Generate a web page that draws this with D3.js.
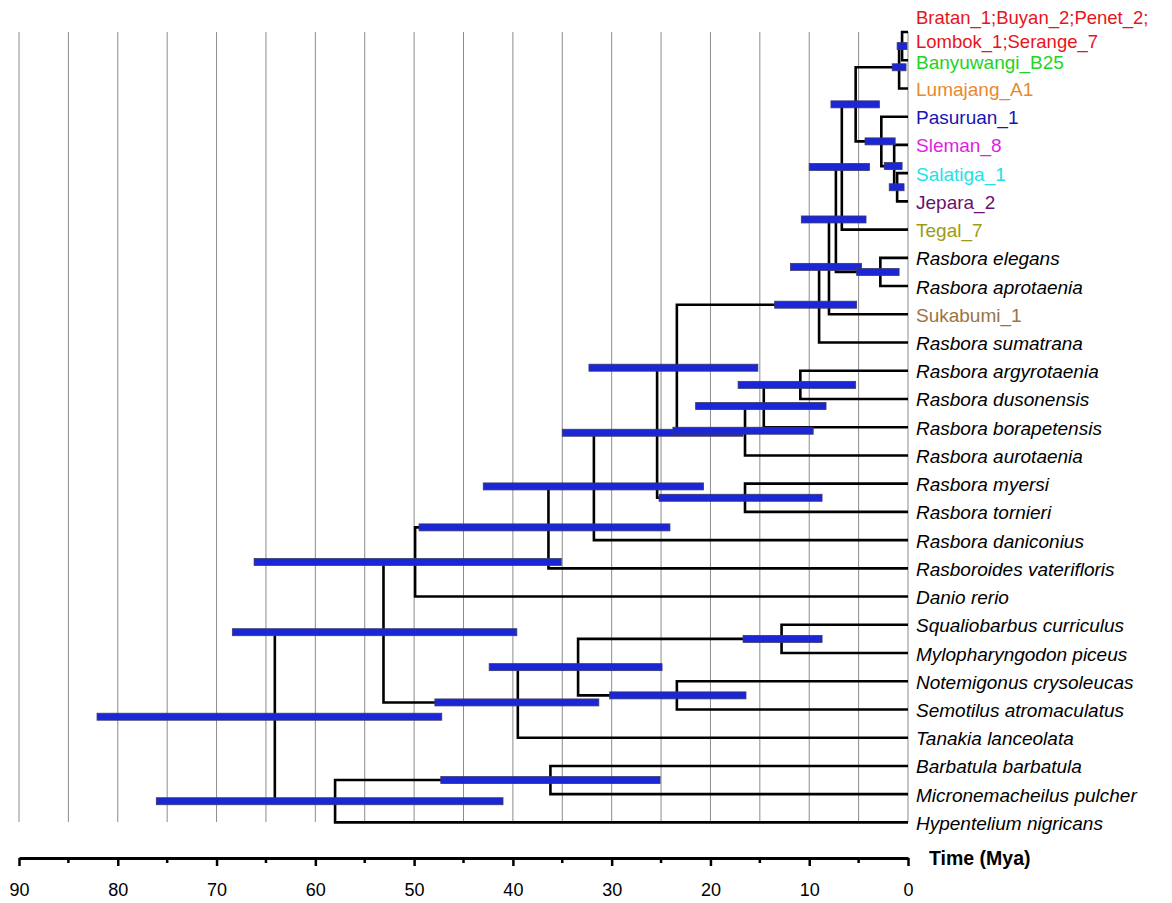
<!DOCTYPE html>
<html>
<head>
<meta charset="utf-8">
<script src="https://cdn.jsdelivr.net/npm/d3@7"></script>
<style>
  html, body { margin: 0; padding: 0; background: #fff; }
  svg { display: block; }
  text { font-family: "Liberation Sans", Arial, Helvetica, sans-serif; }
</style>
</head>
<body>
<svg id="chart" width="1172" height="903"></svg>
<script>
// ---------------- DATA ----------------
const leafNames = [
  "Bratan_1;Buyan_2;Penet_2;Lombok_1;Serange_7",
  "Banyuwangi_B25",
  "Lumajang_A1",
  "Pasuruan_1",
  "Sleman_8",
  "Salatiga_1",
  "Jepara_2",
  "Tegal_7",
  "Rasbora elegans",
  "Rasbora aprotaenia",
  "Sukabumi_1",
  "Rasbora sumatrana",
  "Rasbora argyrotaenia",
  "Rasbora dusonensis",
  "Rasbora borapetensis",
  "Rasbora aurotaenia",
  "Rasbora myersi",
  "Rasbora tornieri",
  "Rasbora daniconius",
  "Rasboroides vaterifloris",
  "Danio rerio",
  "Squaliobarbus curriculus",
  "Mylopharyngodon piceus",
  "Notemigonus crysoleucas",
  "Semotilus atromaculatus",
  "Tanakia lanceolata",
  "Barbatula barbatula",
  "Micronemacheilus pulcher",
  "Hypentelium nigricans"
];
// label lines (first label wraps onto two lines)
const leafLabelLines = [
  ["Bratan_1;Buyan_2;Penet_2;", "Lombok_1;Serange_7"]
];

// internal nodes: id, children (leaf names or node ids), age (Mya), 95% HPD
const nodeIds = ["Root","W","V","U","T","S","L","K","J","H","G","C","B","A","D","E","F","I","P","O","N","R","X","Y","Z","AA","CC","BB"];
const nodeChildren = [
  ["W","CC"],
  ["V","X"],
  ["U","Danio rerio"],
  ["T","Rasboroides vaterifloris"],
  ["S","Rasbora daniconius"],
  ["L","R"],
  ["K","P"],
  ["J","Rasbora sumatrana"],
  ["H","Sukabumi_1"],
  ["G","I"],
  ["C","Tegal_7"],
  ["B","D"],
  ["A","Lumajang_A1"],
  ["Bratan_1;Buyan_2;Penet_2;Lombok_1;Serange_7","Banyuwangi_B25"],
  ["Pasuruan_1","E"],
  ["Sleman_8","F"],
  ["Salatiga_1","Jepara_2"],
  ["Rasbora elegans","Rasbora aprotaenia"],
  ["O","Rasbora aurotaenia"],
  ["N","Rasbora borapetensis"],
  ["Rasbora argyrotaenia","Rasbora dusonensis"],
  ["Rasbora myersi","Rasbora tornieri"],
  ["Y","Tanakia lanceolata"],
  ["Z","AA"],
  ["Squaliobarbus curriculus","Mylopharyngodon piceus"],
  ["Notemigonus crysoleucas","Semotilus atromaculatus"],
  ["BB","Hypentelium nigricans"],
  ["Barbatula barbatula","Micronemacheilus pulcher"]
];
const nodeAges = [64.1, 53.1, 49.9, 36.4, 31.8, 25.4, 23.4, 9.0, 8.0, 7.3, 6.7, 5.3, 0.9, 0.6, 2.7, 1.4, 1.1, 2.8, 16.5, 14.6, 10.9, 16.5, 39.5, 33.4, 12.8, 23.4, 58.0, 36.2];
const hpdMin   = [47.2, 39.6, 35.1, 24.1, 20.7, 16.7, 15.2, 5.2, 4.7, 4.25, 3.9, 2.9, 0.2, 0.1, 1.3, 0.6, 0.4, 0.9, 9.6, 8.3, 5.3, 8.7, 31.3, 24.9, 8.7, 16.4, 41.0, 25.1];
const hpdMax   = [82.1, 68.4, 66.2, 49.5, 43.0, 35.0, 32.3, 13.5, 11.9, 10.8, 10.0, 7.8, 1.6, 1.1, 4.35, 2.4, 1.9, 5.2, 23.8, 21.5, 17.2, 25.2, 47.9, 42.4, 16.7, 30.2, 76.1, 47.3];

const tickValues = [90, 80, 70, 60, 50, 40, 30, 20, 10, 0];
const minorTickValues = [85, 75, 65, 55, 45, 35, 25, 15, 5];
const gridValues = [90, 85, 80, 75, 70, 65, 60, 55, 50, 45, 40, 35, 30, 25, 20, 15, 10, 5, 0];
const axisTitle = "Time (Mya)";

// styles (label colours)
const leafColors = {
  "Bratan_1;Buyan_2;Penet_2;Lombok_1;Serange_7": "#e8141c",
  "Banyuwangi_B25": "#22d425",
  "Lumajang_A1": "#e8892e",
  "Pasuruan_1": "#1616b4",
  "Sleman_8": "#e01ee0",
  "Salatiga_1": "#22e2e8",
  "Jepara_2": "#6c106e",
  "Tegal_7": "#9c9c14",
  "Sukabumi_1": "#9a7446"
};

// ---------------- BUILD ----------------
const svg = d3.select("#chart");
const x = d3.scaleLinear().domain([90, 0]).range([19, 908]);
const yLeaf = d3.scaleLinear().domain([0, leafNames.length - 1]).range([32, 822.4]);

const nodeIndex = new Map(nodeIds.map((id, i) => [id, i]));
function build(id) {
  if (nodeIndex.has(id)) {
    const i = nodeIndex.get(id);
    return { name: id, age: nodeAges[i], hpd: [hpdMin[i], hpdMax[i]], children: nodeChildren[i].map(build) };
  }
  return { name: id, age: 0, leaf: true };
}
const root = d3.hierarchy(build("Root"));
const leafPos = new Map(leafNames.map((n, i) => [n, yLeaf(i)]));
root.eachAfter(d => {
  if (!d.children) d.yy = leafPos.get(d.data.name);
  else d.yy = d3.mean(d.children, c => c.yy);
});

// grid lines
svg.append("g").selectAll("line").data(gridValues).join("line")
  .attr("x1", d => x(d)).attr("x2", d => x(d))
  .attr("y1", 32).attr("y2", 822)
  .attr("stroke", "#8c8c8c").attr("stroke-width", 1);

// branches (elbows)
const links = root.links();
svg.append("g").selectAll("path").data(links).join("path")
  .attr("d", l => `M${x(l.source.data.age)},${l.source.yy}V${l.target.yy}H${x(l.target.data.age)}`)
  .attr("fill", "none")
  .attr("stroke", "#000")
  .attr("stroke-width", 2.6)
  .attr("stroke-linejoin", "miter");

// HPD bars
const internals = root.descendants().filter(d => d.children);
svg.append("g").selectAll("rect").data(internals).join("rect")
  .attr("x", d => x(d.data.hpd[1]))
  .attr("width", d => x(d.data.hpd[0]) - x(d.data.hpd[1]))
  .attr("y", d => d.yy - 3.5)
  .attr("height", 7)
  .attr("fill", "#1b26d6")
  .attr("stroke", "#3a3a6a")
  .attr("stroke-width", 0.8);

// leaf labels
const leaves = root.leaves();
const lab = svg.append("g").selectAll("text").data(leaves).join("text")
  .attr("x", 916)
  .attr("y", d => d.yy + 7.5)
  .attr("font-size", 19)
  .attr("fill", d => leafColors[d.data.name] || "#000")
  .attr("font-style", d => leafColors[d.data.name] ? "normal" : "italic");
lab.each(function(d) {
  const t = d3.select(this);
  const idx = leafNames.indexOf(d.data.name);
  if (idx === 0) {
    t.attr("y", d.yy - 8.5).attr("font-size", 18.5);
    leafLabelLines[0].forEach((s, k) => {
      t.append("tspan").attr("x", 916).attr("dy", k === 0 ? 0 : 24).text(s);
    });
  } else {
    t.text(d.data.name);
    if (idx === 1) t.attr("y", d.yy + 8.5);
  }
});

// axis
const axisY = 858;
const axis = d3.axisBottom(x).tickValues(tickValues).tickSize(8).tickSizeOuter(0).tickPadding(17).tickFormat(d3.format("d"));
const gAxis = svg.append("g").attr("transform", `translate(0,${axisY})`).call(axis);
gAxis.select(".domain").attr("stroke-width", 3).attr("stroke", "#000");
gAxis.selectAll(".tick line").attr("stroke-width", 2.5).attr("stroke", "#000");
gAxis.selectAll(".tick text").attr("font-size", 18).attr("font-family", "Liberation Sans, Arial, sans-serif").attr("fill", "#000");
svg.append("g").attr("transform", `translate(0,${axisY})`).selectAll("line").data(minorTickValues).join("line")
  .attr("x1", d => x(d)).attr("x2", d => x(d)).attr("y1", 0).attr("y2", 5)
  .attr("stroke", "#000").attr("stroke-width", 2.5);

svg.append("text").attr("x", 929).attr("y", axisY + 7)
  .attr("font-size", 19.5).attr("font-weight", "bold").text(axisTitle);
</script>
</body>
</html>
